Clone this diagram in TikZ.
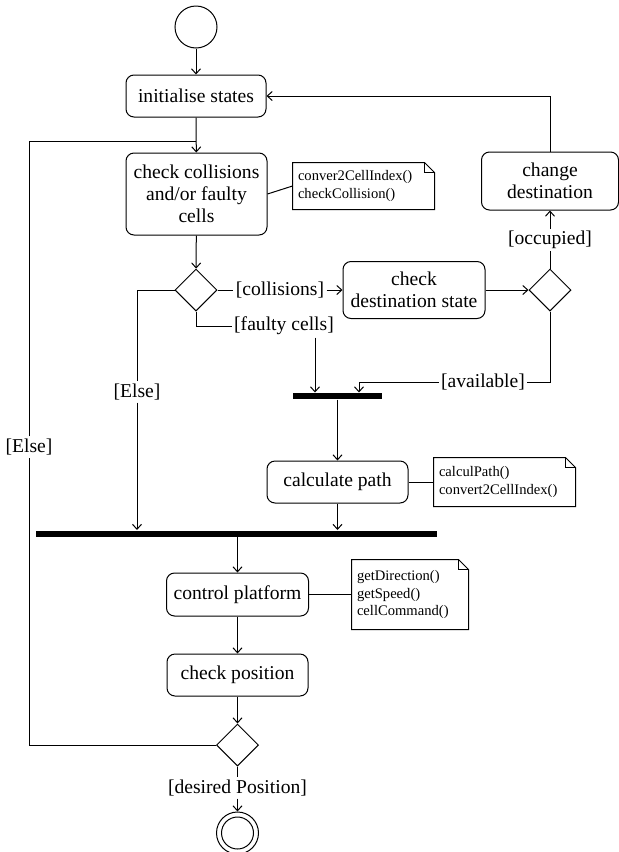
\documentclass[tikz,border=0pt]{standalone}
\usepackage{fontspec}
\setmainfont{Liberation Serif}
\usetikzlibrary{shapes.geometric,arrows.meta}
\tikzset{
	act/.style={draw,rounded corners=4pt,align=center,inner sep=1pt,font=\fontsize{9.8}{11}\selectfont},
	choice/.style={draw,diamond,minimum width=21pt,minimum height=21pt,inner sep=0pt},
	syncbar/.style={fill=black,minimum height=3pt,inner sep=0pt},
	guard/.style={inner sep=1pt,font=\fontsize{9.8}{11}\selectfont},
	memo/.style={align=left,inner xsep=2.5pt,inner ysep=0pt,font=\fontsize{7.3}{8.7}\selectfont},
}
% folded corner of a note
\newcommand{\dogear}[1]{
	\draw (#1.south west) -- (#1.north west) -- ([xshift=-5pt]#1.north east) -- ([yshift=-5pt]#1.north east) -- (#1.south east) -- cycle;
	\draw ([xshift=-5pt]#1.north east) |- ([yshift=-5pt]#1.north east);
}
\begin{document}
\begin{tikzpicture}[x=0.5pt,y=-0.5pt,line width=0.5pt,>={Straight Barb[length=2.5pt,width=4.5pt]}]
	\useasboundingbox (0,0) rectangle (619,852);
	\node[draw,circle,minimum size=21pt,inner sep=0pt] (start) at (196,27) {};
	\node[act,minimum width=70pt,minimum height=21pt] (init) at (196,96) {initialise states};
	\node[act,minimum width=70.5pt,minimum height=41pt] (chk) at (196.5,194) {check collisions\\and/or faulty\\cells};
	\node[memo,text width=65.5pt,minimum height=23pt] (note1) at (363.5,186) {conver2CellIndex()\\checkCollision()};
	\dogear{note1}
	\node[choice] (dec1) at (196,290) {};
	\node[act,minimum width=71pt,minimum height=28.5pt] (dest) at (414,290) {check\\destination state};
	\node[choice] (dec2) at (550,290) {};
	\node[act,minimum width=68.5pt,minimum height=29pt] (chg) at (550,181) {change\\destination};
	\node[syncbar,minimum width=44.5pt] (bar1) at (337.5,396) {};
	\node[act,minimum width=70.5pt,minimum height=21pt] (calc) at (337.5,482) {calculate path};
	\node[memo,text width=65.5pt,minimum height=24pt] (note2) at (504.5,482) {calculPath()\\convert2CellIndex()};
	\dogear{note2}
	\node[syncbar,minimum width=200.5pt] (bar2) at (236.5,533.5) {};
	\node[act,minimum width=71pt,minimum height=21.5pt] (ctrl) at (237.5,594.5) {control platform};
	\node[memo,text width=53pt,minimum height=34.5pt] (note3) at (410,594.5) {getDirection()\\getSpeed()\\cellCommand()};
	\dogear{note3}
	\node[act,minimum width=70.5pt,minimum height=21pt] (pos) at (237.5,675) {check position};
	\node[choice] (dec3) at (237.5,745) {};
	\node[draw,circle,minimum size=21pt,inner sep=0pt] (final) at (237.5,833) {};
	\draw (final.center) circle (8pt);
	% guards
	\node[guard] (coll) at (280,290) {[collisions]};
	\node[guard] (faulty) at (284,326) {[faulty cells]};
	\node[guard] (occ) at (550,240) {[occupied]};
	\node[guard] (avail) at (483,382) {[available]};
	\node[guard] (else1) at (137,392) {[Else]};
	\node[guard] (else2) at (29,447) {[Else]};
	\node[guard] (desired) at (237.5,788) {[desired Position]};
	\coordinate (mrg) at (196,141);
	\coordinate (fin) at ([xshift=-11.25pt]bar1.north);
	\coordinate (ain) at ([xshift=10.75pt]bar1.north);
	% flows
	\draw[->] (start) -- (init);
	\draw[->] (init) -- (chk);
	\draw (dec3.west) -| (else2.south);
	\draw (else2.north) |- (mrg);
	\draw[->] (chk) -- (dec1);
	\draw (dec1.east) -- (coll.west);
	\draw[->] (coll.east) -- (dest.west);
	\draw[->] (dest) -- (dec2);
	\draw (dec2.north) -- (occ);
	\draw[->] (occ) -- (chg);
	\draw[->] (chg.north) |- (init.east);
	\draw (dec2.south) |- (avail.east);
	\draw[->] (avail.west) -| (ain);
	\draw (dec1.south) |- (faulty.west);
	\draw[->] (fin |- faulty.south) -- (fin);
	\draw[->] (bar1) -- (calc);
	\draw[->] (calc) -- (calc |- bar2.north);
	\draw (dec1.west) -| (else1.north);
	\draw[->] (else1.south) -- (else1.south |- bar2.north);
	\draw[->] (ctrl.north |- bar2.south) -- (ctrl);
	\draw[->] (ctrl) -- (pos);
	\draw[->] (pos) -- (dec3);
	\draw (dec3) -- (desired);
	\draw[->] (desired) -- (final);
	\draw (chk.east) -- (note1.west);
	\draw (calc) -- (note2);
	\draw (ctrl) -- (note3);
\end{tikzpicture}
\end{document}
